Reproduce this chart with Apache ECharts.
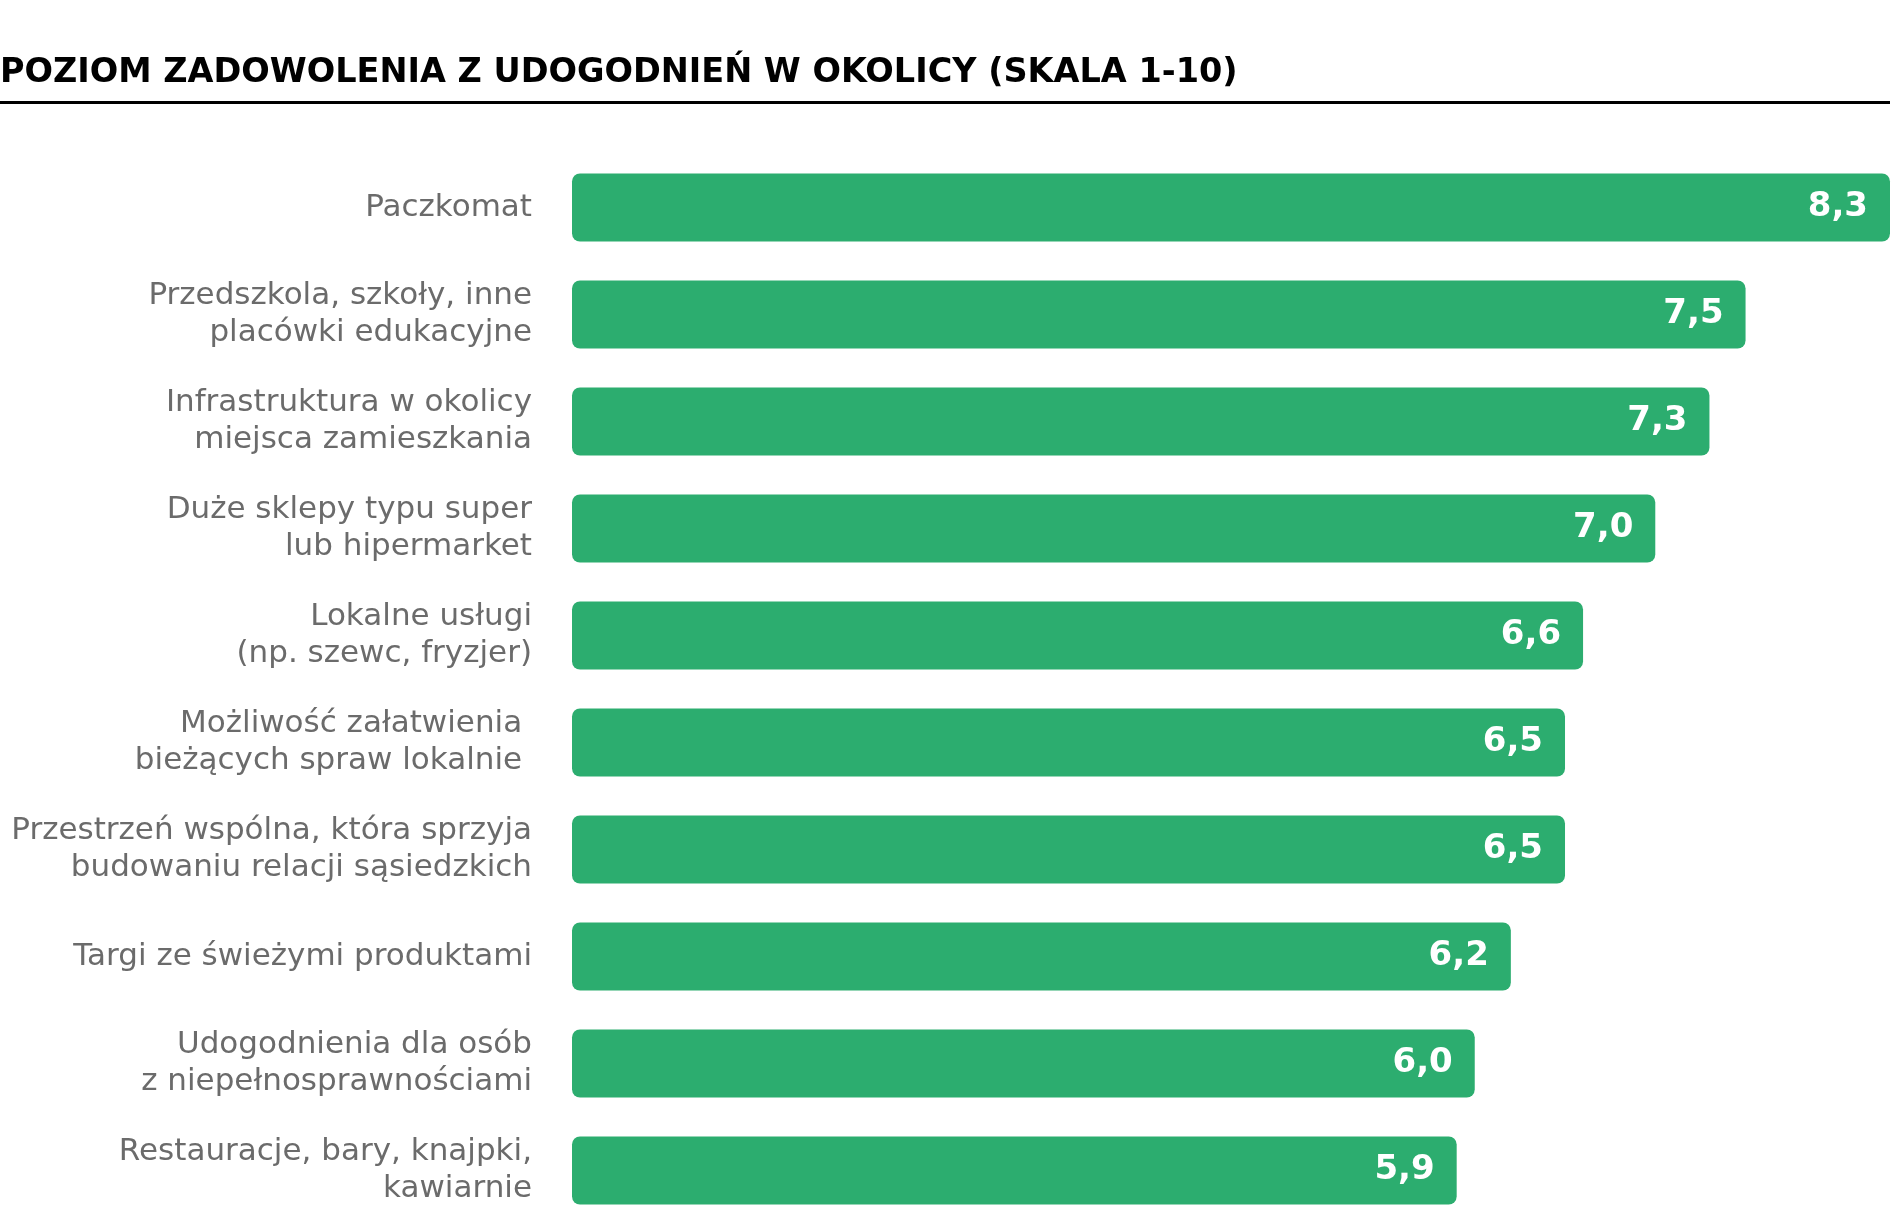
<!DOCTYPE html>
<html>
<head>
<meta charset="utf-8">
<script src="https://cdn.jsdelivr.net/npm/echarts@6/dist/echarts.min.js"></script>
<style>
html,body{margin:0;padding:0;background:#fff;}
#c{width:1901px;height:1215px;}
</style>
</head>
<body>
<div id="c"></div>
<script>
const titleText = 'POZIOM ZADOWOLENIA Z UDOGODNIEŃ W OKOLICY (SKALA 1-10)';
const categories = [
  'Paczkomat',
  'Przedszkola, szkoły, inne\nplacówki edukacyjne',
  'Infrastruktura w okolicy\nmiejsca zamieszkania',
  'Duże sklepy typu super\nlub hipermarket',
  'Lokalne usługi\n(np. szewc, fryzjer)',
  'Możliwość załatwienia \nbieżących spraw lokalnie ',
  'Przestrzeń wspólna, która sprzyja\nbudowaniu relacji sąsiedzkich',
  'Targi ze świeżymi produktami',
  'Udogodnienia dla osób\nz niepełnosprawnościami',
  'Restauracje, bary, knajpki,\nkawiarnie'
];
const values = [8.3, 7.5, 7.3, 7.0, 6.6, 6.5, 6.5, 6.2, 6.0, 5.9];
const scaleMin = 1;
const scaleMax = 8.3;

const chart = echarts.init(document.getElementById('c'), null, {renderer: 'canvas'});
chart.setOption({
  backgroundColor: '#ffffff',
  animation: false,
  title: {
    text: titleText,
    left: 0,
    top: 56,
    padding: 0,
    textStyle: {
      fontFamily: 'DejaVu Sans',
      fontWeight: 'bold',
      fontSize: 33.5,
      color: '#000000'
    }
  },
  graphic: [{
    type: 'line',
    shape: {x1: 0, y1: 102.5, x2: 1890, y2: 102.5},
    style: {stroke: '#000000', lineWidth: 3}
  }],
  grid: {
    left: 572,
    width: 1318,
    top: 154,
    height: 1070,
    containLabel: false,
    outerBoundsMode: 'none'
  },
  xAxis: {
    type: 'value',
    min: scaleMin,
    max: scaleMax,
    show: false
  },
  yAxis: {
    type: 'category',
    data: categories,
    inverse: true,
    axisLine: {show: false},
    axisTick: {show: false},
    splitLine: {show: false},
    axisLabel: {
      margin: 40,
      align: 'right',
      fontFamily: 'DejaVu Sans',
      fontSize: 31,
      lineHeight: 37,
      color: '#6b6b6b'
    }
  },
  series: [{
    type: 'bar',
    data: values,
    barWidth: 68,
    itemStyle: {color: '#2cad6f', borderRadius: 8},
    label: {
      show: true,
      position: 'insideRight',
      distance: 22,
      formatter: p => p.value.toFixed(1).replace('.', ','),
      color: '#ffffff',
      fontFamily: 'DejaVu Sans',
      fontWeight: 'bold',
      fontSize: 34
    }
  }]
});
</script>
</body>
</html>
